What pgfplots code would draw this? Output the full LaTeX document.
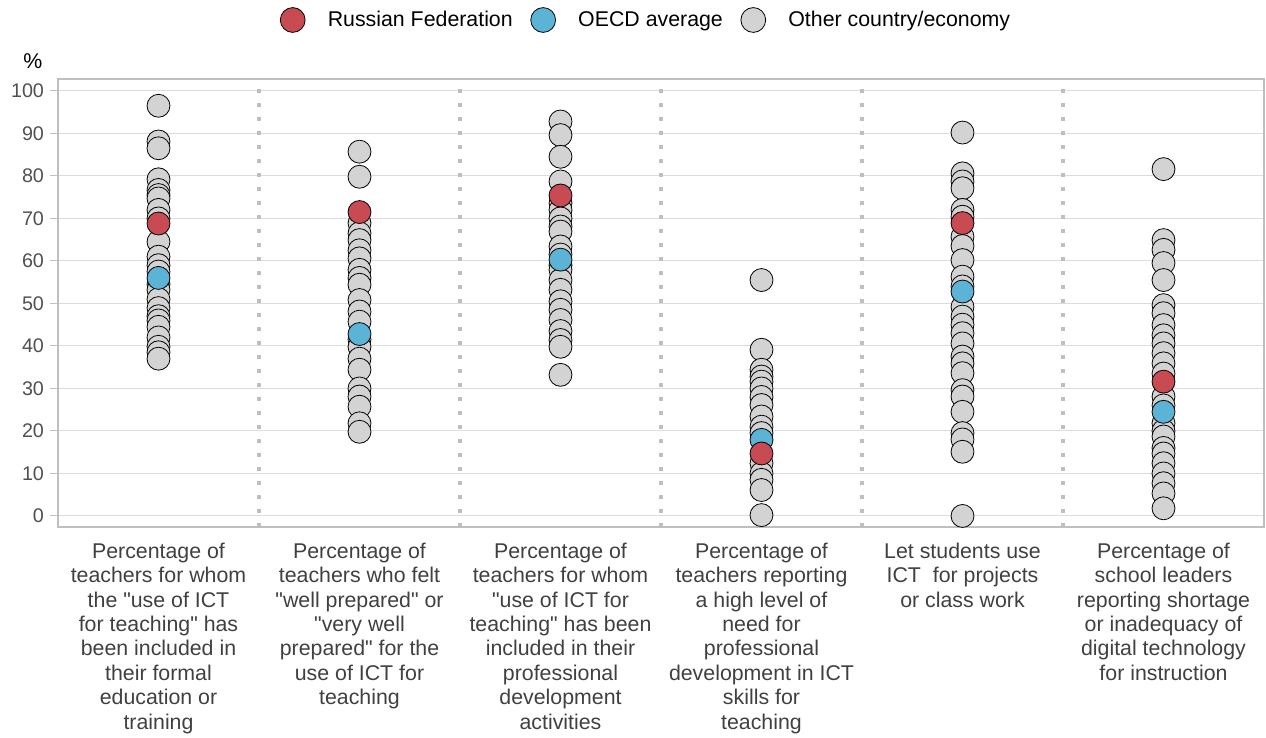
\documentclass[border=0pt]{standalone}
\usepackage{pgfplots}
\pgfplotsset{compat=1.18}
\usepackage{pgfplotstable}
\usepackage{fontspec}
\setmainfont{Liberation Sans}
\definecolor{rus}{HTML}{C84A52}
\definecolor{oecd}{HTML}{5BB4D5}
\definecolor{oth}{HTML}{D3D3D3}
\definecolor{axgrey}{HTML}{BFBFBF}
\definecolor{gridgrey}{HTML}{DCDCDC}
\definecolor{ticktext}{HTML}{505050}
\definecolor{labtext}{HTML}{404040}
\newcommand{\q}{\textquotedbl}

\pgfplotstableread{
x y
0 96.5
0 88.1
0 86.5
0 79.2
0 76.7
0 75.5
0 74.7
0 72.0
0 70.0
0 64.5
0 61.0
0 59.0
0 57.5
0 54.5
0 53.2
0 51.0
0 48.9
0 47.0
0 46.0
0 44.5
0 42.0
0 39.8
0 38.5
0 37.0
1 85.7
1 79.8
1 68.9
1 66.5
1 64.9
1 62.5
1 60.6
1 57.9
1 56.0
1 54.4
1 50.8
1 48.1
1 45.7
1 41.5
1 39.8
1 37.0
1 34.4
1 30.0
1 28.1
1 25.7
1 21.8
1 19.8
2 92.8
2 89.6
2 84.5
2 78.7
2 73.6
2 72.0
2 70.0
2 68.1
2 66.9
2 63.4
2 61.5
2 59.0
2 57.9
2 55.5
2 53.2
2 50.5
2 48.5
2 46.1
2 43.5
2 41.4
2 39.8
2 33.2
3 55.5
3 39.1
3 34.4
3 32.8
3 31.6
3 30.0
3 28.0
3 26.1
3 23.4
3 21.0
3 19.5
3 12.4
3 10.0
3 8.5
3 6.1
3 0.2
4 90.2
4 80.6
4 78.7
4 77.1
4 72.0
4 70.4
4 65.7
4 63.5
4 60.2
4 56.3
4 54.0
4 49.2
4 46.9
4 45.0
4 43.0
4 40.6
4 37.5
4 35.9
4 33.6
4 29.6
4 28.1
4 24.5
4 19.5
4 18.0
4 15.1
4 0.0
5 81.6
5 64.9
5 62.6
5 59.5
5 55.5
5 49.6
5 47.7
5 44.9
5 42.5
5 40.6
5 38.3
5 35.9
5 33.5
5 28.1
5 26.0
5 21.8
5 20.0
5 18.7
5 16.0
5 14.7
5 12.4
5 10.0
5 7.7
5 5.3
5 1.8
}\others

\pgfplotstableread{
x y
0 56.0
1 42.8
2 60.3
3 17.9
4 52.8
5 24.5
}\oecd

\pgfplotstableread{
x y
0 68.8
1 71.5
2 75.4
3 14.7
4 68.9
5 31.6
}\russia

\begin{document}
\begin{tikzpicture}
\useasboundingbox (-43.5pt,-158.25pt) rectangle (906pt,395.25pt);
\begin{axis}[
  at={(0pt,0pt)}, anchor=south west,
  scale only axis, width=904.5pt, height=336pt,
  xmin=-0.5, xmax=5.5, ymin=-2.6, ymax=102.8,
  xtick={0,1,2,3,4,5},
  xticklabels={
    {Percentage of\\teachers for whom\\the \q use of ICT\\for teaching\q{} has\\been included in\\their formal\\education or\\training},
    {Percentage of\\teachers who felt\\\q well prepared\q{} or\\\q very well\\prepared\q{} for the\\use of ICT for\\teaching},
    {Percentage of\\teachers for whom\\\q use of ICT for\\teaching\q{} has been\\included in their\\professional\\development\\activities},
    {Percentage of\\teachers reporting\\a high level of\\need for\\professional\\development in ICT\\skills for\\teaching},
    {Let students use\\ICT\ \ for projects\\or class work},
    {Percentage of\\school leaders\\reporting shortage\\or inadequacy of\\digital technology\\for instruction}
  },
  x tick style={draw=none},
  ytick={0,10,...,100},
  ytick pos=left,
  ymajorgrids,
  major grid style={gridgrey, line width=0.75pt},
  axis line style={axgrey, line width=1.1pt},
  y tick style={axgrey, line width=0.75pt},
  tick align=outside, major tick length=6pt,
  yticklabel style={font=\fontsize{14.8}{17}\selectfont, text=ticktext, xshift=-1pt},
  xticklabel style={font=\fontsize{16}{18.3}\selectfont, text=labtext, align=center, yshift=-2.3pt},
  /pgf/number format/assume math mode=true,
  extra x ticks={0.5,1.5,2.5,3.5,4.5},
  extra x tick labels={},
  extra x tick style={grid=major, major grid style={axgrey, line width=3pt, dash pattern=on 3pt off 7.5pt}, tick style={draw=none}},
  legend style={at={(0.488,1.1317)}, anchor=center, draw=none, fill=none,
    legend columns=-1, font=\fontsize{16}{18}\selectfont,
    /tikz/every even column/.append style={column sep=11.5pt},
    /tikz/every odd column/.append style={column sep=15pt}},
  legend image code/.code={\draw[#1] plot coordinates {(0pt,0pt)};},
]
\addlegendimage{only marks, mark=*, mark size=9.3pt, mark options={fill=rus, draw=black, line width=0.6pt}}
\addlegendentry{Russian Federation}
\addlegendimage{only marks, mark=*, mark size=9.3pt, mark options={fill=oecd, draw=black, line width=0.6pt}}
\addlegendentry{OECD average}
\addlegendimage{only marks, mark=*, mark size=9.3pt, mark options={fill=oth, draw=black, line width=0.6pt}}
\addlegendentry{Other country/economy}

\addplot[forget plot, only marks, mark=*, mark size=8.6pt, mark options={fill=oth, draw=black, line width=0.6pt}] table[x=x,y=y] {\others};
\addplot[forget plot, only marks, mark=*, mark size=8.6pt, mark options={fill=oecd, draw=black, line width=0.6pt}] table[x=x,y=y] {\oecd};
\addplot[forget plot, only marks, mark=*, mark size=8.6pt, mark options={fill=rus, draw=black, line width=0.6pt}] table[x=x,y=y] {\russia};
\end{axis}
\node[font=\fontsize{16}{18}\selectfont, text=black] at (-18.9pt,349pt) {\%};
\end{tikzpicture}
\end{document}
